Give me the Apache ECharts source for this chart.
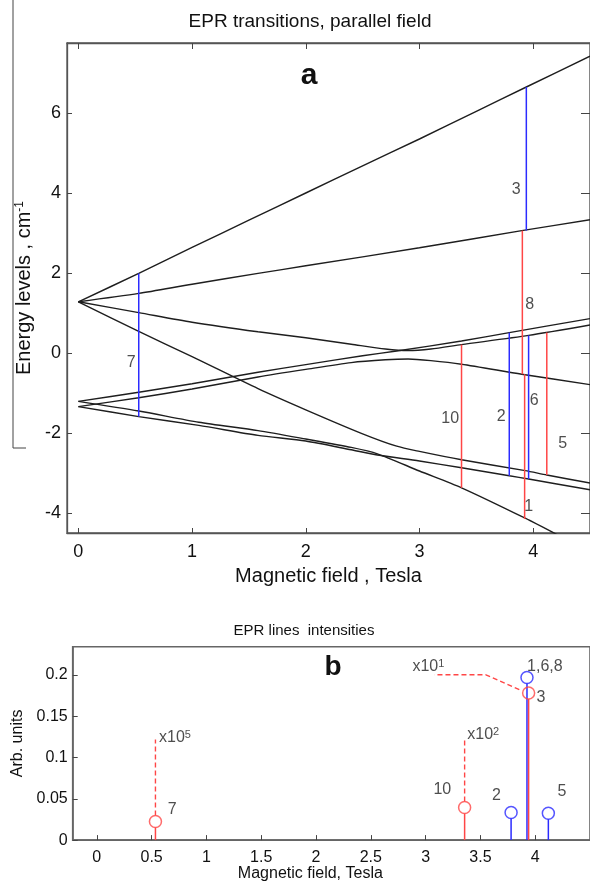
<!DOCTYPE html>
<html>
<head>
<meta charset="utf-8">
<script src="https://cdn.jsdelivr.net/npm/echarts@6/dist/echarts.min.js"></script>
<style>
  html, body { margin: 0; padding: 0; background: #fff; }
  #chart { width: 590px; height: 883px; }
</style>
</head>
<body>
<div id="chart"></div>
<script>
// energy levels vs field [B (T), E (cm-1)]
const levelA = [[0,1.28],[0.531,1.99],[1,2.64],[1.5,3.32],[2,4.0],[2.5,4.68],[3,5.35],[3.5,6.04],[3.94,6.65],[4.5,7.42]];
const levelB = [[0,1.28],[0.531,1.49],[1,1.72],[1.58,1.99],[2,2.18],[3,2.63],[3.9,3.06],[4.5,3.33]];
const levelC = [[0,1.28],[0.531,1.01],[1,0.77],[1.58,0.53],[2,0.38],[2.4,0.22],[2.7,0.1],[2.9,0.06],[3.1,0.1],[3.37,0.21],[3.96,0.44],[4.5,0.7]];
const levelD = [[0,1.28],[0.531,0.54],[1,-0.09],[1.58,-0.89],[2,-1.42],[2.5,-2.02],[2.8,-2.33],[3.0,-2.46],[3.37,-2.67],[3.93,-2.94],[4.12,-3.05],[4.5,-3.25]];
const levelE = [[0,-1.21],[0.531,-0.98],[1,-0.77],[1.58,-0.48],[2,-0.29],[2.5,-0.07],[2.8,0.05],[3.37,0.3],[3.79,0.51],[4.5,0.86]];
const levelF = [[0,-1.34],[0.531,-1.12],[1,-0.9],[1.58,-0.6],[2,-0.41],[2.4,-0.24],[2.7,-0.17],[2.9,-0.15],[3.1,-0.19],[3.37,-0.28],[3.9,-0.53],[4.5,-0.79]];
const levelG = [[0,-1.21],[0.531,-1.45],[1.06,-1.73],[1.58,-1.94],[2,-2.15],[2.4,-2.36],[2.63,-2.52],[3.0,-2.95],[3.37,-3.37],[3.93,-4.13],[4.25,-4.6]];
const levelH = [[0,-1.34],[0.531,-1.59],[1.06,-1.81],[1.58,-2.06],[2,-2.2],[2.4,-2.42],[2.63,-2.55],[3.0,-2.7],[3.37,-2.87],[3.79,-3.07],[3.96,-3.15],[4.5,-3.42]];
const levels = [levelA, levelB, levelC, levelD, levelE, levelF, levelG, levelH];

// transitions drawn in panel a
const transName = ['7', '3', '8', '1', '6', '10', '2', '5'];
const transField = [0.531, 3.94, 3.905, 3.925, 3.96, 3.37, 3.79, 4.12];
const transLow = [-1.59, 3.06, -0.53, -4.15, -3.15, -3.37, -3.07, -3.05];
const transHigh = [1.99, 6.65, 3.06, -0.53, 0.44, 0.21, 0.51, 0.51];
const transKind = ['b', 'b', 'r', 'r', 'b', 'r', 'b', 'r'];

// EPR line intensities, panel b
const lineName = ['7', '10', '2', '1,6,8', '3', '5'];
const lineField = [0.535, 3.356, 3.78, 3.925, 3.94, 4.12];
const lineIntensity = [0.0225, 0.0394, 0.0333, 0.1968, 0.178, 0.0325];
const lineKind = ['r', 'r', 'b', 'b', 'r', 'b'];

const ticksA_x = [0, 1, 2, 3, 4];
const ticksA_y = [-4, -2, 0, 2, 4, 6];
const ticksB_x = [0, 0.5, 1, 1.5, 2, 2.5, 3, 3.5, 4];
const ticksB_y = [0, 0.05, 0.1, 0.15, 0.2];

const COLORS = { b: '#2b2bff', r: '#ff4646' };
const FONT = "'Liberation Sans', Arial, sans-serif";

// where the number labels sit (data coords)
const transLabelAt = [[0.465,-0.23],[3.85,4.08],[3.97,1.2],[3.96,-3.84],[4.01,-1.2],[3.27,-1.64],[3.72,-1.59],[4.26,-2.26]];
const lineLabelAt = [[0.687,0.0373],[3.153,0.0614],[3.646,0.0534],[4.088,0.21],[4.052,0.172],[4.245,0.0582]];
const scaleNote = [
  { text: '5', at: [0.568, 0.124], path: [[0.535, 0.0297], [0.535, 0.1217]] },
  { text: '2', at: [3.38, 0.1277], path: [[3.356, 0.0466], [3.356, 0.1237]] },
  { text: '1', at: [2.88, 0.21], path: [[3.855, 0.182], [3.55, 0.2], [3.08, 0.2]] }
];

const chart = echarts.init(document.getElementById('chart'));

const frame = { onZero: false, lineStyle: { color: '#555', width: 1.3 } };
const frameB = { onZero: false, lineStyle: { color: '#666', width: 1.6 } };
const tickIn = (vals, len) => ({ show: true, inside: true, length: len || 5, customValues: vals, lineStyle: { color: '#444' } });

const series = [];

levels.forEach((lv, i) => {
  series.push({
    name: 'level' + i, type: 'line', xAxisIndex: 0, yAxisIndex: 0,
    data: lv, showSymbol: false, smooth: 0.25, clip: true, silent: true,
    lineStyle: { color: '#1e1e1e', width: 1.4 }, z: 3
  });
});

series.push({
  type: 'custom', xAxisIndex: 0, yAxisIndex: 0, z: 4,
  data: transField.map((x, i) => ({ value: [x, transLow[i], transHigh[i]], itemStyle: { color: COLORS[transKind[i]] } })),
  renderItem: (params, api) => {
    const p0 = api.coord([api.value(0), api.value(1)]);
    const p1 = api.coord([api.value(0), api.value(2)]);
    return { type: 'line', shape: { x1: p0[0], y1: p0[1], x2: p1[0], y2: p1[1] },
      style: { stroke: api.visual('color'), lineWidth: 1.5 } };
  }
});

series.push({
  type: 'scatter', xAxisIndex: 0, yAxisIndex: 0, symbolSize: 1, z: 5,
  itemStyle: { color: 'transparent' },
  data: transName.map((n, i) => ({ value: transLabelAt[i], name: n })),
  label: { show: true, position: 'inside', formatter: p => p.name, color: '#222', fontSize: 16, fontFamily: FONT }
});

// panel b stems
series.push({
  type: 'custom', xAxisIndex: 2, yAxisIndex: 2, z: 4,
  data: lineField.map((x, i) => ({ value: [x, lineIntensity[i]], itemStyle: { color: COLORS[lineKind[i]] } })),
  renderItem: (params, api) => {
    const p0 = api.coord([api.value(0), 0]);
    const p1 = api.coord([api.value(0), api.value(1)]);
    return { type: 'line', shape: { x1: p0[0], y1: p0[1], x2: p1[0], y2: p1[1] + 6 },
      style: { stroke: api.visual('color'), lineWidth: 1.5 } };
  }
});

series.push({
  type: 'scatter', xAxisIndex: 2, yAxisIndex: 2, symbol: 'circle', symbolSize: 12, z: 5,
  data: lineField.map((x, i) => ({ value: [x, lineIntensity[i]],
    itemStyle: { color: 'transparent', borderColor: COLORS[lineKind[i]], borderWidth: 1.5 } }))
});

series.push({
  type: 'scatter', xAxisIndex: 2, yAxisIndex: 2, symbolSize: 1, z: 5,
  itemStyle: { color: 'transparent' },
  data: lineName.map((n, i) => ({ value: lineLabelAt[i], name: n })),
  label: { show: true, position: 'inside', formatter: p => p.name, color: '#222', fontSize: 16, fontFamily: FONT }
});

scaleNote.forEach(s => {
  series.push({
    type: 'line', xAxisIndex: 2, yAxisIndex: 2, data: s.path, showSymbol: false, silent: true, z: 4,
    lineStyle: { color: COLORS.r, width: 1.4, type: [5, 3] }
  });
  series.push({
    type: 'scatter', xAxisIndex: 2, yAxisIndex: 2, symbolSize: 1, z: 5,
    itemStyle: { color: 'transparent' },
    data: [{ value: s.at, name: s.text }],
    label: { show: true, position: 'inside', align: 'left', color: '#222', fontFamily: FONT,
      formatter: p => '{m|x10}{s|' + p.name + '}',
      rich: { m: { fontSize: 16, fontFamily: FONT, color: '#222' },
              s: { fontSize: 11, fontFamily: FONT, color: '#222', verticalAlign: 'top' } } }
  });
});

const option = {
  animation: false,
  backgroundColor: '#fff',
  textStyle: { fontFamily: FONT },
  grid: [
    { left: 67, top: 43, right: -5, height: 490, show: true, borderColor: '#555', borderWidth: 1.3, backgroundColor: 'transparent' },
    { left: 72.7, top: 646.7, right: -3.4, bottom: 42, show: true, borderColor: '#666', borderWidth: 1.6, backgroundColor: 'transparent' }
  ],
  xAxis: [
    { type: 'value', gridIndex: 0, min: -0.1, max: 4.5, position: 'bottom',
      axisLine: frame, splitLine: { show: false }, axisTick: tickIn(ticksA_x),
      axisLabel: { customValues: ticksA_x, color: '#111', fontSize: 18, margin: 10, fontFamily: FONT },
      name: 'Magnetic field , Tesla', nameLocation: 'middle', nameGap: 33,
      nameTextStyle: { fontSize: 20, color: '#111', fontFamily: FONT } },
    { type: 'value', gridIndex: 0, min: -0.1, max: 4.5, position: 'top',
      axisLine: frame, splitLine: { show: false }, axisTick: tickIn(ticksA_x, 6), axisLabel: { show: false } },
    { type: 'value', gridIndex: 1, min: -0.22, max: 4.5, position: 'bottom',
      axisLine: frameB, splitLine: { show: false }, axisTick: tickIn(ticksB_x),
      axisLabel: { customValues: ticksB_x, color: '#111', fontSize: 16, margin: 9, fontFamily: FONT },
      name: 'Magnetic field, Tesla', nameLocation: 'middle', nameGap: 25,
      nameTextStyle: { fontSize: 16, color: '#111', fontFamily: FONT, padding: [0, 42, 0, 0] } }
  ],
  yAxis: [
    { type: 'value', gridIndex: 0, min: -4.5, max: 7.75,
      axisLine: frame, splitLine: { show: false }, axisTick: tickIn(ticksA_y),
      axisLabel: { customValues: ticksA_y, color: '#111', fontSize: 18, margin: 6, fontFamily: FONT },
      name: '{n|Energy levels , cm}{s|-1}', nameLocation: 'middle', nameGap: 33,
      nameTextStyle: { fontSize: 20, color: '#111', fontFamily: FONT,
        rich: { n: { fontSize: 20, color: '#111', fontFamily: FONT },
                s: { fontSize: 12, color: '#111', fontFamily: FONT, verticalAlign: 'top' } } } },
    { type: 'value', gridIndex: 0, min: -4.5, max: 7.75, position: 'right',
      axisLine: frame, splitLine: { show: false }, axisTick: tickIn(ticksA_y, 9), axisLabel: { show: false } },
    { type: 'value', gridIndex: 1, min: 0, max: 0.234,
      axisLine: frameB, splitLine: { show: false }, axisTick: tickIn(ticksB_y),
      axisLabel: { customValues: ticksB_y, color: '#111', fontSize: 16, margin: 5, fontFamily: FONT },
      name: 'Arb. units', nameLocation: 'middle', nameGap: 46,
      nameTextStyle: { fontSize: 16, color: '#111', fontFamily: FONT } }
  ],
  graphic: [
    { type: 'text', x: 310, y: 22, style: { text: 'EPR transitions, parallel field', fontSize: 19, fontFamily: FONT, fill: '#111', align: 'center', verticalAlign: 'middle' } },
    { type: 'text', x: 309, y: 76, style: { text: 'a', fontSize: 30, fontWeight: 'bold', fontFamily: FONT, fill: '#111', align: 'center', verticalAlign: 'middle' } },
    { type: 'text', x: 304, y: 631, style: { text: 'EPR lines  intensities', fontSize: 15, fontFamily: FONT, fill: '#111', align: 'center', verticalAlign: 'middle' } },
    { type: 'text', x: 333, y: 667, style: { text: 'b', fontSize: 28, fontWeight: 'bold', fontFamily: FONT, fill: '#111', align: 'center', verticalAlign: 'middle' } },
    { type: 'polyline', shape: { points: [[13, 0], [13, 448], [26, 448]] }, style: { stroke: '#444', lineWidth: 1, fill: null } }
  ],
  series: series
};

chart.setOption(option);
</script>
</body>
</html>
